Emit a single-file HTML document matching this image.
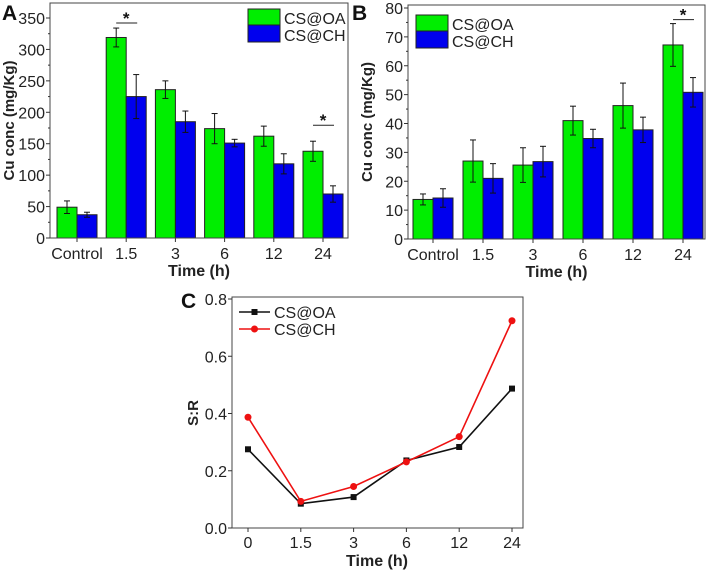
<!DOCTYPE html>
<html><head><meta charset="utf-8">
<style>
html,body{margin:0;padding:0;background:#fff;}
svg{display:block;font-family:"Liberation Sans",Arial,sans-serif;}
</style></head>
<body>
<svg id="fig" width="709" height="570" viewBox="0 0 709 570" xmlns="http://www.w3.org/2000/svg"></svg>
<script>
// ---- Panel A data ----
const catsA = ["Control","1.5","3","6","12","24"];
const oaA = [49,319,236,174,162,138];
const oaErrA = [10,15,14,24,16,16];
const chA = [37,225,185,151,118,70];
const chErrA = [4,35,17,6,16,13];
const ticksA = [0,50,100,150,200,250,300,350];
// ---- Panel B data ----
const catsB = ["Control","1.5","3","6","12","24"];
const oaB = [13.7,27,25.6,41,46.2,67.2];
const oaErrB = [1.9,7.3,6,5,7.8,7.4];
const chB = [14.2,21,26.8,34.8,37.8,50.8];
const chErrB = [3.2,5.1,5.3,3.2,4.4,5.1];
const ticksB = [0,10,20,30,40,50,60,70,80];
// ---- Panel C data ----
const catsC = ["0","1.5","3","6","12","24"];
const oaC = [0.275,0.085,0.108,0.236,0.283,0.487];
const chC = [0.387,0.093,0.145,0.231,0.319,0.724];
const ticksC = [0.0,0.2,0.4,0.6,0.8];

const svg = document.getElementById('fig');
const NS = "http://www.w3.org/2000/svg";
function mk(tag, attrs, name, text){
  const e = document.createElementNS(NS, tag);
  for (const k in attrs) e.setAttribute(k, attrs[k]);
  
  
  if (text !== undefined) e.textContent = text;
  svg.appendChild(e);
  return e;
}

function barPanel(p){
  const y = v => p.y0 - (v - p.ymin) / (p.ymax - p.ymin) * (p.y0 - p.yTop);
  const x = i => p.xc0 + i * p.dx;
  p.cats.forEach((c,i)=>{
    const series = [[p.oa,p.oaE,'#00ee00',-p.bw,'oa'],[p.ch,p.chE,'#0000ee',0,'ch']];
    series.forEach(([vals,errs,col,off,nm])=>{
      const v = vals[i];
      mk('rect',{x:x(i)+off,y:y(v),width:p.bw,height:p.y0-y(v),fill:col,stroke:'#222','stroke-width':1},p.id+'-bar-'+nm+'-'+i);
      const cx = x(i)+off+p.bw/2;
      mk('line',{x1:cx,x2:cx,y1:y(v-errs[i]),y2:y(v+errs[i]),stroke:'#111','stroke-width':1},p.id+'-errbar-'+nm+'-'+i);
      mk('line',{x1:cx-3,x2:cx+3,y1:y(v-errs[i]),y2:y(v-errs[i]),stroke:'#111','stroke-width':1},p.id+'-errcap-low-'+nm+'-'+i);
      mk('line',{x1:cx-3,x2:cx+3,y1:y(v+errs[i]),y2:y(v+errs[i]),stroke:'#111','stroke-width':1},p.id+'-errcap-high-'+nm+'-'+i);
    });
    mk('line',{x1:x(i),x2:x(i),y1:p.y0,y2:p.y0+4,stroke:'#333'},p.id+'-x-tick');
    mk('text',{x:x(i),y:p.y0+21,'font-size':16,'text-anchor':'middle',fill:'#222'},p.id+'-x-label',c);
  });
  mk('rect',{x:p.xl,y:p.frameTop,width:p.xr-p.xl,height:p.y0-p.frameTop,fill:'none',stroke:'#444','stroke-width':1},p.id+'-plot-frame');
  p.ticks.forEach(t=>{
    mk('line',{x1:p.xl-4,x2:p.xl,y1:y(t),y2:y(t),stroke:'#333'},p.id+'-y-tick');
    mk('text',{x:p.xl-5,y:y(t)+6,'font-size':16,'text-anchor':'end',fill:'#222'},p.id+'-y-label',String(t));
  });
  for (let k=0;k<p.ticks.length-1;k++){
    const m=(p.ticks[k]+p.ticks[k+1])/2;
    mk('line',{x1:p.xl-2,x2:p.xl,y1:y(m),y2:y(m),stroke:'#333'},p.id+'-y-minor-tick');
  }
  mk('text',{x:(p.xl+p.xr)/2,y:p.y0+38,'font-size':16,'font-weight':'bold','text-anchor':'middle',fill:'#222'},p.id+'-x-axis-title','Time (h)');
  mk('text',{x:0,y:0,'font-size':15,'font-weight':'bold','text-anchor':'middle',fill:'#222',transform:`translate(${p.ytx},${(p.y0+p.frameTop)/2}) rotate(-90)`},p.id+'-y-axis-title','Cu conc (mg/Kg)');
  mk('text',{x:p.lx,y:p.ly,'font-size':21,'font-weight':'bold',fill:'#111'},p.id+'-panel-label',p.label);
  mk('rect',{x:p.legX,y:p.legY,width:32,height:16,fill:'#00ee00',stroke:'#222'},p.id+'-legend-swatch-oa');
  mk('rect',{x:p.legX,y:p.legY+16,width:32,height:17,fill:'#0000ee',stroke:'#222'},p.id+'-legend-swatch-ch');
  mk('text',{x:p.legX+36,y:p.legY+15,'font-size':16,fill:'#222'},p.id+'-legend-label-oa','CS@OA');
  mk('text',{x:p.legX+36,y:p.legY+32,'font-size':16,fill:'#222'},p.id+'-legend-label-ch','CS@CH');
  p.sig.forEach((i,k)=>{
    const top = Math.max(p.oa[i]+p.oaE[i], p.ch[i]+p.chE[i]);
    const ly = y(top)-(p.sigGap[k]);
    mk('line',{x1:x(i)-10,x2:x(i)+11,y1:ly,y2:ly,stroke:'#222','stroke-width':1},p.id+'-significance-line');
    mk('text',{x:x(i),y:ly+1,'font-size':17,'font-weight':'bold','text-anchor':'middle',fill:'#111'},p.id+'-significance-star','*');
  });
}

barPanel({id:'panel-a',label:'A',lx:2,ly:20,cats:catsA,oa:oaA,oaE:oaErrA,ch:chA,chE:chErrA,ticks:ticksA,
  ymin:0,ymax:350,y0:238,yTop:18,frameTop:3,xl:50,xr:348,xc0:77,dx:49.2,bw:20,ytx:14,
  legX:248,legY:9,sig:[1,5],sigGap:[5,16]});
barPanel({id:'panel-b',label:'B',lx:352,ly:20,cats:catsB,oa:oaB,oaE:oaErrB,ch:chB,chE:chErrB,ticks:ticksB,
  ymin:0,ymax:80,y0:239,yTop:8,frameTop:5,xl:408,xr:705,xc0:433,dx:50,bw:20,ytx:372,
  legX:416,legY:15,sig:[5],sigGap:[4]});

(function(){
  const y0=528, yT=299, xl=232, xr=523;
  const y = v => y0 - v/0.8*(y0-yT);
  const x = i => 248 + i*52.8;
  mk('rect',{x:xl,y:yT-2,width:xr-xl,height:y0-yT+2,fill:'none',stroke:'#444'},'panel-c-plot-frame');
  ticksC.forEach(t=>{
    mk('line',{x1:xl-4,x2:xl,y1:y(t),y2:y(t),stroke:'#333'},'panel-c-y-tick');
    mk('text',{x:xl-5,y:y(t)+6,'font-size':16,'text-anchor':'end',fill:'#222'},'panel-c-y-label',t.toFixed(1));
  });
  catsC.forEach((c,i)=>{
    mk('line',{x1:x(i),x2:x(i),y1:y0,y2:y0+4,stroke:'#333'},'panel-c-x-tick');
    mk('text',{x:x(i),y:y0+20,'font-size':16,'text-anchor':'middle',fill:'#222'},'panel-c-x-label',c);
  });
  mk('text',{x:377,y:y0+38,'font-size':16,'font-weight':'bold','text-anchor':'middle',fill:'#222'},'panel-c-x-axis-title','Time (h)');
  mk('text',{x:0,y:0,'font-size':15,'font-weight':'bold','text-anchor':'middle',fill:'#222',transform:'translate(198,413) rotate(-90)'},'panel-c-y-axis-title','S:R');
  mk('text',{x:181,y:308,'font-size':21,'font-weight':'bold',fill:'#111'},'panel-c-label','C');
  const ser=[[oaC,'#111','oa','rect'],[chC,'#ee1111','ch','circle']];
  ser.forEach(([vals,col,nm,shape])=>{
    mk('polyline',{points:vals.map((v,i)=>x(i)+','+y(v)).join(' '),fill:'none',stroke:col,'stroke-width':1.6},'panel-c-line-'+nm);
    vals.forEach((v,i)=>{
      if(shape==='rect') mk('rect',{x:x(i)-3,y:y(v)-3,width:6,height:6,fill:col},'panel-c-point-'+nm);
      else mk('circle',{cx:x(i),cy:y(v),r:3.5,fill:col},'panel-c-point-'+nm);
    });
  });
  mk('line',{x1:239,x2:270,y1:312,y2:312,stroke:'#111','stroke-width':1.6},'panel-c-legend-line-oa');
  mk('rect',{x:251.5,y:309,width:6,height:6,fill:'#111'},'panel-c-legend-marker-oa');
  mk('text',{x:274,y:318,'font-size':16,fill:'#222'},'panel-c-legend-label-oa','CS@OA');
  mk('line',{x1:239,x2:270,y1:329,y2:329,stroke:'#ee1111','stroke-width':1.6},'panel-c-legend-line-ch');
  mk('circle',{cx:254.5,cy:329,r:3.5,fill:'#ee1111'},'panel-c-legend-marker-ch');
  mk('text',{x:274,y:335,'font-size':16,fill:'#222'},'panel-c-legend-label-ch','CS@CH');
})();
</script>
</body></html>
